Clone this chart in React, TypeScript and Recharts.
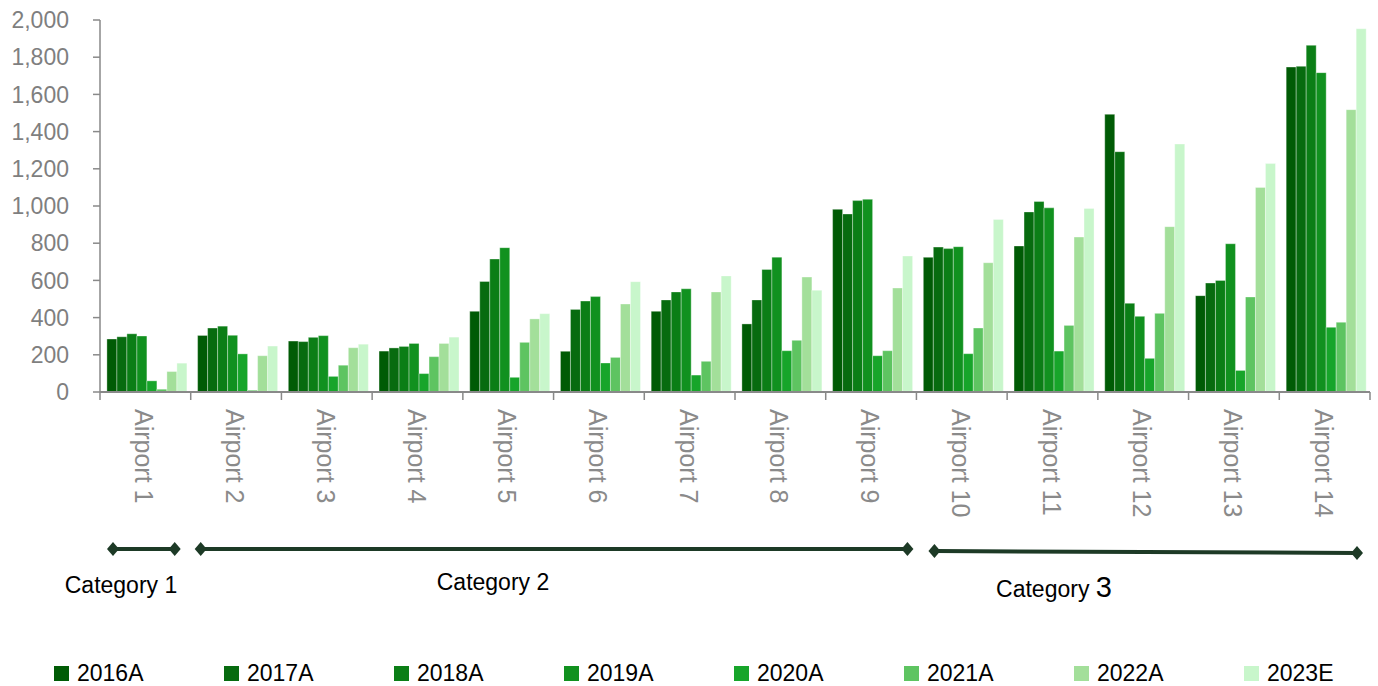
import { BarChart, Bar, XAxis, YAxis } from 'recharts'

const airports = [
  'Airport 1', 'Airport 2', 'Airport 3', 'Airport 4', 'Airport 5', 'Airport 6', 'Airport 7',
  'Airport 8', 'Airport 9', 'Airport 10', 'Airport 11', 'Airport 12', 'Airport 13', 'Airport 14',
]

const years = ['2016A', '2017A', '2018A', '2019A', '2020A', '2021A', '2022A', '2023E']

const y2016 = [285, 304, 274, 220, 434, 219, 434, 366, 982, 724, 785, 1493, 518, 1747]
const y2017 = [297, 344, 271, 237, 594, 444, 495, 495, 957, 779, 968, 1292, 586, 1751]
const y2018 = [313, 354, 294, 245, 715, 489, 538, 659, 1029, 771, 1024, 477, 600, 1864]
const y2019 = [301, 305, 303, 261, 776, 513, 555, 725, 1036, 781, 990, 407, 797, 1717]
const y2020 = [60, 205, 84, 99, 79, 156, 91, 222, 195, 206, 220, 181, 116, 348]
const y2021 = [15, 10, 144, 190, 267, 186, 165, 278, 222, 344, 358, 423, 511, 375]
const y2022 = [110, 195, 238, 261, 393, 473, 538, 618, 559, 695, 833, 889, 1100, 1518]
const y2023 = [155, 247, 257, 295, 421, 593, 624, 547, 731, 928, 987, 1333, 1228, 1953]

const yTicks = [0, 200, 400, 600, 800, 1000, 1200, 1400, 1600, 1800, 2000]

const groupNames = ['Category 1', 'Category 2', 'Category 3']
const groupFirst = [0, 1, 9]
const groupLast = [0, 8, 13]

const colors = ['#005b05', '#076b0f', '#0b7e16', '#11911f', '#17a52a', '#5ec461', '#a3df9a', '#c8f6cb']

const series = [y2016, y2017, y2018, y2019, y2020, y2021, y2022, y2023]

const data = airports.map((name, i) => {
  const row: Record<string, string | number> = { name }
  years.forEach((yr, j) => {
    row[yr] = series[j][i]
  })
  return row
})

// plot box
const W = 1378
const H = 686
const LEFT = 100
const RIGHT = 8
const TOP = 20
const BOTTOM = 392
const PLOT_W = W - LEFT - RIGHT
const BAND = PLOT_W / airports.length
const AXIS = '#898989'
const LINE = '#1d3a26'

function AirportTick(props: any) {
  const { x, payload, index } = props
  const cx = x
  return (
    <g>
      <line x1={cx - BAND / 2} x2={cx - BAND / 2} y1={BOTTOM} y2={BOTTOM + 8} stroke={AXIS} strokeWidth={1.5} />
      {index === airports.length - 1 && (
        <line x1={cx + BAND / 2} x2={cx + BAND / 2} y1={BOTTOM} y2={BOTTOM + 8} stroke={AXIS} strokeWidth={1.5} />
      )}
      <g transform={`translate(${cx - 1},${BOTTOM + 17})`}>
        <text transform="rotate(90)" x={0} y={0} dy="0.36em" textAnchor="start" fontSize={25} fill="#8a8a8a">
          {payload.value}
        </text>
      </g>
    </g>
  )
}

function Diamond({ x, y }: { x: number; y: number }) {
  return <polygon points={`${x - 6},${y} ${x},${y - 7} ${x + 6},${y} ${x},${y + 7}`} fill={LINE} />
}

function Categories() {
  const labelX = [121, 493, 1054]
  const labelY = [593, 590, 597]
  const lineY = [[549, 549], [549, 549], [551, 553]]
  const padL = [13, 10, 18]
  const padR = [16, 9, 13]
  return (
    <svg width={W} height={H} style={{ position: 'absolute', left: 0, top: 0, pointerEvents: 'none' }}>
      {groupNames.map((g, i) => {
        const x1 = LEFT + groupFirst[i] * BAND + padL[i]
        const x2 = LEFT + (groupLast[i] + 1) * BAND - padR[i]
        const [ya, yb] = lineY[i]
        const last = g.slice(-1)
        return (
          <g key={g}>
            <line x1={x1} x2={x2} y1={ya} y2={yb} stroke={LINE} strokeWidth={4} />
            <Diamond x={x1} y={ya} />
            <Diamond x={x2} y={yb} />
            <text x={labelX[i]} y={labelY[i]} textAnchor="middle" fontSize={23} fill="#000">
              {g.slice(0, -1)}
              <tspan fontSize={i === 2 ? 29 : 23}>{last}</tspan>
            </text>
          </g>
        )
      })}
    </svg>
  )
}

function LegendRow() {
  return (
    <div style={{ position: 'absolute', left: 54, top: 660, display: 'flex' }}>
      {years.map((yr, i) => (
        <div key={yr} style={{ width: 170, display: 'flex', alignItems: 'center', height: 26 }}>
          <span style={{ width: 15, height: 15, background: colors[i], display: 'inline-block', marginRight: 8 }} />
          <span style={{ fontSize: 23, color: '#000', lineHeight: '26px' }}>{yr}</span>
        </div>
      ))}
    </div>
  )
}

export default function App() {
  return (
    <div style={{ position: 'absolute', left: 0, top: 0, width: W, height: H, background: '#fff', fontFamily: '"Liberation Sans", Arial, sans-serif' }}>
      <BarChart
        width={W}
        height={H}
        data={data}
        margin={{ top: TOP, right: RIGHT, left: 0, bottom: 0 }}
        barCategoryGap="7.6%"
        barGap={0}
      >
        <XAxis
          dataKey="name"
          height={H - BOTTOM}
          axisLine={{ stroke: AXIS, strokeWidth: 2 }}
          tickLine={false}
          interval={0}
          tick={<AirportTick />}
        />
        <YAxis
          width={LEFT}
          domain={[0, 2000]}
          ticks={yTicks}
          interval={0}
          axisLine={{ stroke: AXIS, strokeWidth: 1.5 }}
          tickLine={{ stroke: AXIS, strokeWidth: 1.5 }}
          tickSize={7}
          tickMargin={24}
          tickFormatter={(v) => Number(v).toLocaleString('en-US')}
          tick={{ fontSize: 23, fill: '#7f7f7f' }}
        />
        {years.map((yr, i) => (
          <Bar
            key={yr}
            dataKey={yr}
            fill={colors[i]}
            stroke="#ffffff"
            strokeOpacity={0.45}
            strokeWidth={0.75}
            isAnimationActive={false}
          />
        ))}
      </BarChart>
      <Categories />
      <LegendRow />
    </div>
  )
}
